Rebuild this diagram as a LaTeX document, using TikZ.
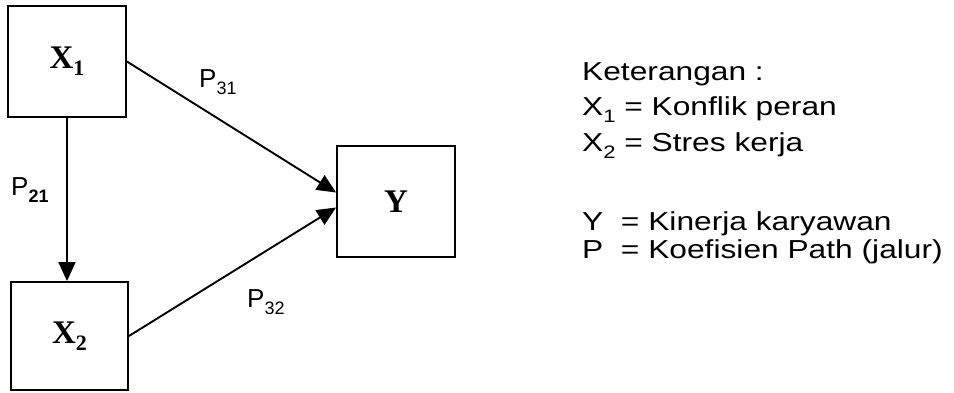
\documentclass[tikz,border=0pt]{standalone}
\usepackage{fontspec}
\setmainfont{Liberation Sans}
\newfontfamily\serifb{Liberation Serif}
\newfontfamily\legfont[FakeStretch=1.22]{Liberation Sans}
\usetikzlibrary{arrows.meta}
\newcommand{\mysub}[1]{\raisebox{-0.28em}{\fontsize{18}{18}\selectfont #1}}
\newcommand{\legsub}[1]{\raisebox{-0.3em}{\fontsize{18}{18}\selectfont #1}}
\newcommand{\boxsub}[1]{\raisebox{-0.22em}{\fontsize{22}{22}\selectfont #1}}
\begin{document}
\begin{tikzpicture}[x=1pt,y=-1pt,
  box/.style={draw,line width=1.9pt,minimum width=118pt,minimum height=111pt,inner sep=0pt,
    font=\serifb\bfseries\fontsize{33}{33}\selectfont},
  arr/.style={line width=1.9pt,-{Triangle[length=19pt,width=17pt]}},
  lab/.style={anchor=base west,inner sep=0pt,font=\fontsize{26}{26}\selectfont},
  leg/.style={anchor=base west,inner sep=0pt,font=\legfont\fontsize{26}{26}\selectfont}]
\useasboundingbox (0,0) rectangle (954,392);
\node[box] (X1) at (67,61.5) {X\boxsub{1}};
\node[box,minimum width=117pt,minimum height=108pt] (X2) at (69.5,336) {X\boxsub{2}};
\node[box] (Y) at (396,201.5) {Y};
\draw[arr] (X1.south) -- (X1.south |- X2.north);
\draw[arr] (X1.east) -- ([yshift=9pt]Y.west);
\draw[arr] (X2.east) -- ([yshift=-6pt]Y.west);
\node[lab] (p31) at (199,87) {P\mysub{31}};
\node[lab] (p32) at (247,307) {P\mysub{32}};
\node[lab] (p21) at (11,195) {P\mysub{\textbf{21}}};
\node[leg] (l0) at (582,80) {Keterangan :};
\node[leg] (l1) at (582,115) {X\legsub{1} = Konflik peran};
\node[leg] (l2) at (582,151) {X\legsub{2} = Stres kerja};
\node[leg] (l3) at (582,230) {Y\ \ = Kinerja karyawan};
\node[leg] (l4) at (582,258) {P\ \ = Koefisien Path (jalur)};
\end{tikzpicture}
\end{document}
